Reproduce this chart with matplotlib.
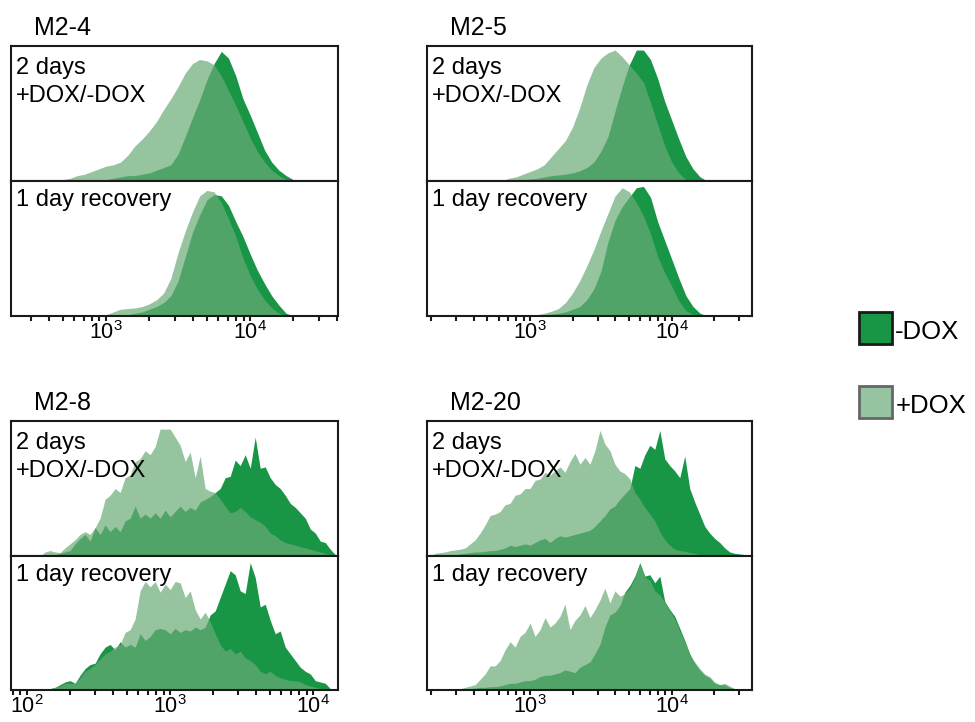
import numpy as np
import matplotlib.pyplot as plt
from matplotlib.patches import Rectangle
from matplotlib.ticker import LogLocator, NullFormatter

plt.rcParams['font.family'] = ['Liberation Sans', 'DejaVu Sans']
plt.rcParams['mathtext.default'] = 'regular'

MINUS_COLOR = '#189646'
PLUS_COLOR = '#6aab77'
TITLE_FONT = 18
TEXT_FONT = 17
LEGEND_FONT = 18.5
TICK_FONT = 15.5

# ---- data: histogram heights (fraction of the panel height) on log10 grids ----
# M2-4, grid log10 2.40 .. 4.50
m24_grid = (2.40, 4.50)
m24_2d_minus = [0, 0, 0, 0, 0, 0, 0, 0, 0, 0, 0, 0,
                0.01, 0.02, 0.03, 0.04, 0.04, 0.05, 0.06, 0.08, 0.10, 0.12,
                0.20, 0.33, 0.47, 0.60, 0.75, 0.87, 0.96, 0.91, 0.78, 0.61,
                0.49, 0.36, 0.23, 0.14, 0.08, 0.04, 0.01, 0, 0, 0, 0]
m24_2d_plus = [0, 0, 0, 0, 0, 0,
               0.01, 0.02, 0.04, 0.05, 0.07, 0.09, 0.11, 0.12, 0.14, 0.19,
               0.26, 0.31, 0.37, 0.44, 0.53, 0.61, 0.70, 0.80, 0.87, 0.90,
               0.89, 0.86, 0.78, 0.67, 0.56, 0.44, 0.32, 0.22, 0.14, 0.08,
               0.04, 0.01, 0, 0, 0, 0, 0]
m24_1d_minus = [0, 0, 0, 0, 0, 0, 0, 0, 0, 0, 0, 0, 0, 0, 0,
                0.01, 0.02, 0.03, 0.05, 0.07, 0.10, 0.15, 0.26, 0.44, 0.62,
                0.75, 0.86, 0.90, 0.89, 0.82, 0.70, 0.59, 0.46, 0.34, 0.24,
                0.15, 0.08, 0.02, 0, 0, 0, 0, 0]
m24_1d_plus = [0, 0, 0, 0, 0, 0, 0, 0, 0, 0, 0, 0,
               0.01, 0.03, 0.05, 0.055, 0.06, 0.07, 0.09, 0.12, 0.17, 0.28,
               0.47, 0.63, 0.77, 0.89, 0.93, 0.92, 0.84, 0.72, 0.59, 0.43,
               0.30, 0.20, 0.12, 0.06, 0.02, 0, 0, 0, 0, 0, 0]

# M2-5, grid log10 2.80 .. 4.30
m25_grid = (2.80, 4.30)
m25_2d_minus = [0, 0, 0.005, 0.01, 0.015, 0.02, 0.03, 0.04, 0.045, 0.05,
                0.06, 0.075, 0.10, 0.14, 0.22, 0.33, 0.52, 0.70, 0.86, 0.97,
                0.97, 0.90, 0.76, 0.59, 0.45, 0.31, 0.18, 0.09, 0.03, 0, 0]
m25_2d_plus = [0, 0.02, 0.03, 0.05, 0.07, 0.09, 0.12, 0.18, 0.24, 0.30,
               0.40, 0.54, 0.71, 0.84, 0.91, 0.95, 0.97, 0.92, 0.86, 0.80,
               0.73, 0.58, 0.42, 0.26, 0.14, 0.06, 0.01, 0, 0, 0, 0]
m25_1d_minus = [0, 0, 0, 0, 0, 0.005, 0.01, 0.015, 0.02, 0.03,
                0.05, 0.07, 0.12, 0.20, 0.33, 0.55, 0.71, 0.81, 0.88, 0.95,
                0.96, 0.88, 0.70, 0.56, 0.42, 0.28, 0.15, 0.07, 0.02, 0, 0]
m25_1d_plus = [0, 0, 0, 0, 0, 0.01, 0.02, 0.035, 0.055, 0.10,
               0.17, 0.26, 0.37, 0.49, 0.63, 0.76, 0.89, 0.95, 0.92, 0.84,
               0.74, 0.61, 0.44, 0.32, 0.22, 0.11, 0.04, 0.01, 0, 0, 0]

# M2-8, grid log10 2.091 .. 4.154
m28_grid = (2.091, 4.154)
m28_2d_minus = [0, 0, 0.01, 0.01, 0.02, 0.03, 0.04, 0.09, 0.13, 0.16,
                0.11, 0.21, 0.16, 0.23, 0.18, 0.22, 0.18, 0.26, 0.28, 0.37,
                0.28, 0.31, 0.28, 0.32, 0.28, 0.34, 0.29, 0.33, 0.37, 0.33,
                0.36, 0.34, 0.40, 0.42, 0.44, 0.47, 0.50, 0.58, 0.59, 0.71,
                0.67, 0.75, 0.65, 0.88, 0.65, 0.66, 0.58, 0.53, 0.50, 0.45,
                0.39, 0.36, 0.32, 0.28, 0.20, 0.17, 0.11, 0.10, 0.05, 0.01]
m28_2d_plus = [0, 0.03, 0.04, 0.03, 0.025, 0.06, 0.09, 0.12, 0.16, 0.18,
               0.16, 0.21, 0.28, 0.42, 0.45, 0.50, 0.47, 0.58, 0.60, 0.70,
               0.72, 0.78, 0.75, 0.81, 0.94, 0.94, 0.94, 0.88, 0.82, 0.70,
               0.77, 0.58, 0.74, 0.50, 0.48, 0.47, 0.42, 0.37, 0.32, 0.33,
               0.36, 0.33, 0.29, 0.27, 0.25, 0.22, 0.17, 0.15, 0.12, 0.10,
               0.09, 0.08, 0.07, 0.06, 0.05, 0.04, 0.03, 0.02, 0.01, 0]
m28_1d_minus = [0, 0, 0.01, 0.02, 0.04, 0.06, 0.07, 0.05, 0.11, 0.16,
                0.19, 0.20, 0.27, 0.32, 0.34, 0.30, 0.36, 0.32, 0.34, 0.32,
                0.42, 0.37, 0.40, 0.45, 0.46, 0.45, 0.42, 0.46, 0.43, 0.45,
                0.44, 0.47, 0.45, 0.47, 0.56, 0.59, 0.69, 0.79, 0.89, 0.86,
                0.74, 0.72, 0.95, 0.84, 0.62, 0.64, 0.52, 0.42, 0.44, 0.32,
                0.27, 0.22, 0.17, 0.14, 0.12, 0.07, 0.06, 0.05, 0.01, 0]
m28_1d_plus = [0, 0, 0.01, 0.02, 0.03, 0.05, 0.05, 0.05, 0.09, 0.14,
               0.16, 0.19, 0.23, 0.27, 0.29, 0.32, 0.34, 0.43, 0.45, 0.53,
               0.74, 0.81, 0.77, 0.81, 0.73, 0.79, 0.75, 0.81, 0.80, 0.69,
               0.74, 0.60, 0.53, 0.58, 0.51, 0.42, 0.34, 0.29, 0.31, 0.27,
               0.29, 0.24, 0.22, 0.19, 0.14, 0.12, 0.14, 0.11, 0.09, 0.08,
               0.07, 0.07, 0.06, 0.04, 0.03, 0.02, 0.01, 0.005, 0, 0]

# M2-20, grid log10 2.296 .. 4.514
m220_grid = (2.296, 4.514)
m220_2d_minus = [0, 0, 0, 0.005, 0.01, 0.01, 0.015, 0.02, 0.025, 0.03,
                 0.03, 0.035, 0.04, 0.04, 0.05, 0.06, 0.08, 0.07, 0.08, 0.09,
                 0.08, 0.10, 0.12, 0.13, 0.10, 0.13, 0.15, 0.14, 0.15, 0.16,
                 0.17, 0.18, 0.19, 0.22, 0.26, 0.30, 0.35, 0.37, 0.42, 0.46,
                 0.50, 0.67, 0.65, 0.75, 0.82, 0.79, 0.93, 0.72, 0.67, 0.63,
                 0.58, 0.74, 0.50, 0.40, 0.31, 0.22, 0.17, 0.13, 0.10, 0.06,
                 0.03, 0.02, 0.015, 0.01]
m220_2d_plus = [0, 0.02, 0.025, 0.03, 0.04, 0.045, 0.05, 0.06, 0.09, 0.12,
                0.17, 0.23, 0.30, 0.31, 0.33, 0.38, 0.39, 0.45, 0.46, 0.50,
                0.50, 0.56, 0.57, 0.62, 0.60, 0.63, 0.66, 0.62, 0.70, 0.76,
                0.68, 0.73, 0.68, 0.78, 0.93, 0.83, 0.78, 0.68, 0.63, 0.61,
                0.57, 0.47, 0.42, 0.36, 0.31, 0.26, 0.18, 0.12, 0.08, 0.05,
                0.04, 0.035, 0.025, 0.02, 0.01, 0, 0, 0, 0, 0,
                0, 0, 0, 0]
m220_1d_minus = [0, 0, 0, 0, 0, 0, 0.005, 0.01, 0.01, 0.015,
                 0.02, 0.02, 0.025, 0.025, 0.03, 0.04, 0.05, 0.05, 0.06, 0.07,
                 0.07, 0.08, 0.10, 0.11, 0.11, 0.12, 0.13, 0.15, 0.14, 0.13,
                 0.17, 0.19, 0.21, 0.27, 0.34, 0.47, 0.56, 0.58, 0.63, 0.73,
                 0.78, 0.85, 0.95, 0.85, 0.86, 0.80, 0.85, 0.66, 0.60, 0.55,
                 0.46, 0.37, 0.27, 0.20, 0.15, 0.11, 0.09, 0.05, 0.04, 0.04,
                 0.02, 0.01, 0, 0]
m220_1d_plus = [0, 0, 0, 0, 0, 0.005, 0.01, 0.02, 0.03, 0.04,
                0.08, 0.12, 0.18, 0.18, 0.22, 0.30, 0.36, 0.32, 0.40, 0.43,
                0.50, 0.40, 0.45, 0.54, 0.47, 0.50, 0.55, 0.64, 0.45, 0.52,
                0.56, 0.63, 0.54, 0.60, 0.67, 0.76, 0.65, 0.74, 0.70, 0.72,
                0.76, 0.84, 0.94, 0.84, 0.82, 0.74, 0.71, 0.65, 0.59, 0.53,
                0.44, 0.36, 0.26, 0.21, 0.16, 0.12, 0.10, 0.06, 0.04, 0.05,
                0.03, 0.01, 0, 0]

W, H = 975, 722


def px_axes(x0, x1, y0, y1):
    # pixel box (top-left origin) -> figure axes
    return fig.add_axes([x0 / W, 1 - y1 / H, (x1 - x0) / W, (y1 - y0) / H])


def draw_hist(ax, grid, minus, plus):
    x = 10 ** np.linspace(grid[0], grid[1], len(minus))
    ax.fill_between(x, minus, color=MINUS_COLOR, lw=0)
    ax.fill_between(x, plus, color=PLUS_COLOR, alpha=0.7, lw=0)


def style(ax, xlim, bottom, majors):
    ax.set_xscale('log')
    ax.set_xlim(10 ** xlim[0], 10 ** xlim[1])
    ax.set_ylim(0, 1)
    ax.set_yticks([])
    for s in ax.spines.values():
        s.set_linewidth(1.5)
        s.set_color('#1a1a1a')
    if bottom:
        ax.set_xticks([10.0 ** m for m in majors])
        ax.set_xticklabels(['$10^{%d}$' % m for m in majors])
        ax.xaxis.set_minor_locator(LogLocator(base=10, subs=np.arange(2, 10), numticks=20))
        ax.xaxis.set_minor_formatter(NullFormatter())
        ax.tick_params(axis='x', which='both', direction='out', length=3.5,
                       width=1.5, color='#1a1a1a', labelsize=TICK_FONT, pad=0)
    else:
        ax.set_xticks([])
        ax.xaxis.set_minor_locator(plt.NullLocator())


fig = plt.figure(figsize=(9.75, 7.22), dpi=100)

panels = [
    ('M2-4', 11, 338, 46, 181, 316, (2.34, 4.61), [3, 4], m24_grid,
     m24_2d_minus, m24_2d_plus, m24_1d_minus, m24_1d_plus),
    ('M2-5', 427, 752, 46, 181, 316, (2.273, 4.566), [3, 4], m25_grid,
     m25_2d_minus, m25_2d_plus, m25_1d_minus, m25_1d_plus),
    ('M2-8', 11, 338, 421, 556, 690, (1.888, 4.173), [2, 3, 4], m28_grid,
     m28_2d_minus, m28_2d_plus, m28_1d_minus, m28_1d_plus),
    ('M2-20', 427, 752, 421, 556, 690, (2.273, 4.566), [3, 4], m220_grid,
     m220_2d_minus, m220_2d_plus, m220_1d_minus, m220_1d_plus),
]

for (name, x0, x1, ytop, ymid, ybot, xlim, majors, grid,
     a_minus, a_plus, b_minus, b_plus) in panels:
    ax_a = px_axes(x0, x1, ytop, ymid)
    ax_b = px_axes(x0, x1, ymid, ybot)
    draw_hist(ax_a, grid, a_minus, a_plus)
    draw_hist(ax_b, grid, b_minus, b_plus)
    style(ax_a, xlim, False, majors)
    style(ax_b, xlim, True, majors)
    ax_a.text(0.014, 0.915, '2 days\n+DOX/-DOX', transform=ax_a.transAxes,
              va='top', ha='left', fontsize=TEXT_FONT, linespacing=1.3)
    ax_b.text(0.014, 0.94, '1 day recovery', transform=ax_b.transAxes,
              va='top', ha='left', fontsize=TEXT_FONT)
    fig.text((x0 + 23) / W, 1 - (ytop - 11) / H, name, fontsize=TITLE_FONT,
             va='baseline', ha='left')

# legend
fig.add_artist(Rectangle((859 / W, 1 - 344 / H), 33 / W, 32 / H,
                         transform=fig.transFigure, facecolor=MINUS_COLOR,
                         edgecolor='#1a1a1a', lw=2))
fig.add_artist(Rectangle((859 / W, 1 - 418 / H), 33 / W, 32 / H,
                         transform=fig.transFigure, facecolor='#96c4a0',
                         edgecolor='#666666', lw=2))
fig.text(895 / W, 1 - 339 / H, '-DOX', fontsize=LEGEND_FONT, va='baseline')
fig.text(896 / W, 1 - 413 / H, '+DOX', fontsize=LEGEND_FONT, va='baseline')

fig.savefig('out.png', dpi=100)
